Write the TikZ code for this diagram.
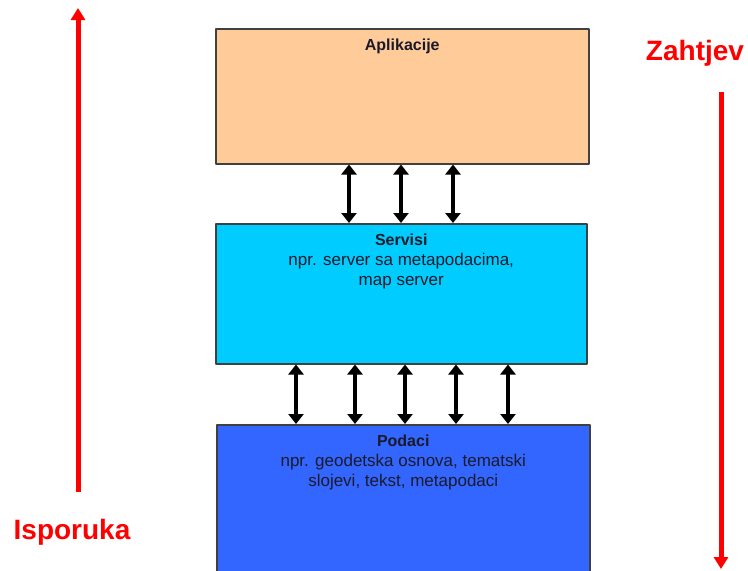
\documentclass[tikz,border=0pt]{standalone}
\usepackage{fontspec}
\setmainfont{Liberation Sans}
\usetikzlibrary{arrows.meta}
\definecolor{apricot}{HTML}{FFCC99}
\definecolor{skyblue}{HTML}{00CCFF}
\definecolor{royal}{HTML}{3366FF}
\definecolor{edge}{HTML}{404040}
\definecolor{ink}{HTML}{1A1A2A}
\begin{document}
\begin{tikzpicture}[x=1pt,y=1pt,line join=round,font=\fontsize{17}{20}\selectfont,
	layer/.style={draw=edge,line width=1.5pt,anchor=north west,inner sep=0pt,minimum width=373pt},
	title/.style={text=ink,anchor=north,align=center},
	dbl/.style={{Triangle[width=15pt,length=10pt]}-{Triangle[width=15pt,length=10pt]},line width=4pt},
	flow/.style={-{Triangle[width=14pt,length=12pt]},red,line width=5pt},
	tag/.style={red,font=\bfseries\fontsize{28}{30}\selectfont}]
	\useasboundingbox (0,0) rectangle (748,-571);
	\clip (0,0) rectangle (748,-571);
	% layers
	\node[layer,fill=apricot,minimum height=135pt] (apl) at (215,-28) {};
	\node[layer,fill=skyblue,minimum height=140pt,minimum width=371pt] (srv) at (215,-223) {};
	\node[layer,fill=royal,minimum height=160pt] (pod) at (216,-424) {};
	\node[title] (aplt) at ([yshift=-7pt]apl.north) {\textbf{\fontsize{16}{20}\selectfont Aplikacije}};
	\node[title] (srvt) at ([yshift=-7pt]srv.north) {\textbf{\fontsize{16}{20}\selectfont Servisi}\\npr. server sa metapodacima,\\map server};
	\node[title] (podt) at ([yshift=-7pt]pod.north) {\textbf{\fontsize{16}{20}\selectfont Podaci}\\npr. geodetska osnova, tematski\\slojevi, tekst, metapodaci};
	% links between layers
	\foreach \x in {349,401,453}
		\draw[dbl] (\x,0 |- apl.south) -- (\x,0 |- srv.north);
	\foreach \x in {296,355,405,456,508}
		\draw[dbl] (\x,0 |- srv.south) -- (\x,0 |- pod.north);
	% request / delivery
	\node[tag] (zah) at (695,-53) {Zahtjev};
	\node[tag] (isp) at (72,-532) {Isporuka};
	\coordinate (zah0) at (721,-92);
	\coordinate (zah1) at (721,-569);
	\coordinate (isp0) at (78,-492);
	\coordinate (isp1) at (78,-8);
	\draw[flow] (zah0) -- (zah1);
	\draw[flow] (isp0) -- (isp1);
\end{tikzpicture}
\end{document}
